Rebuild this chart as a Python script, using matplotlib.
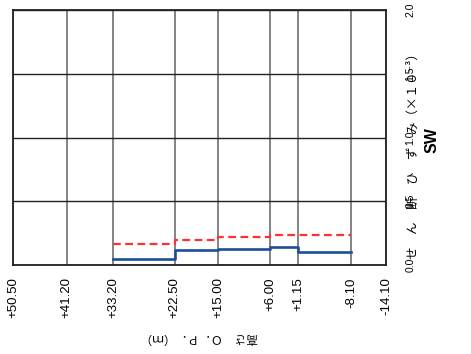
import matplotlib
matplotlib.use("Agg")
import matplotlib.pyplot as plt

# -----------------------------------------
# Data (elevations)

elev_ticks = [50.50, 41.20, 33.20, 22.50, 15.00, 6.00, 1.15, -8.10, -14.10]
elev_labels = ["+50.50", "+41.20", "+33.20", "+22.50", "+15.00", "+6.00", "+1.15", "-8.10", "-14.10"]

layer_bounds = [33.20, 22.50, 15.00, 6.00, 1.15, -8.10]
strain_calc = [0.045, 0.115, 0.123, 0.140, 0.104]
strain_limit = [0.165, 0.198, 0.217, 0.235, 0.235]

strain_ticks = [0.0, 0.5, 1.0, 1.5, 2.0]

jp_font = ["Noto Sans CJK JP", "DejaVu Sans"]
num_font = ["Liberation Sans", "DejaVu Sans"]

# -------------------------------
# Figure and axes (471 x 354 px)

fig = plt.figure(figsize=(4.71, 3.54), dpi=100)
ax = fig.add_axes([13 / 471, 1 - 265 / 354, 373 / 471, 255 / 354])

# step lines
ax.step(layer_bounds, strain_calc + [strain_calc[-1]], where="post",
        color="#1f4e96", lw=1.9, zorder=3)
ax.step(layer_bounds, strain_limit + [strain_limit[-1]], where="post",
        color="#ff3030", lw=1.6, ls=(0, (3.5, 2.0)), zorder=3)

ax.set_xlim(elev_ticks[0], elev_ticks[-1])
ax.set_ylim(0, 2.0)

# ticks
ax.set_xticks(elev_ticks)
ax.set_xticklabels(elev_labels, rotation=90, fontsize=9.5, family=num_font)
ax.tick_params(axis="x", length=0, pad=9)

ax.yaxis.tick_right()
ax.set_yticks(strain_ticks)
ax.set_yticklabels([f"{v:.1f}" for v in strain_ticks], rotation=90,
                   fontsize=7.5, family=num_font, va="center")
ax.tick_params(axis="y", length=0, pad=14)

# grid and frame
ax.xaxis.grid(True, color="#6e6e6e", lw=1.2)
ax.yaxis.grid(True, color="#222222", lw=1.0)
ax.set_axisbelow(True)
for spine in ax.spines.values():
    spine.set_color("#222222")
    spine.set_linewidth(1.3)

# ------------------------
# Rotated axis captions

ax.text(0.5, -0.286, "高さ　Ｏ．Ｐ．（ｍ）", transform=ax.transAxes,
        rotation=180, ha="center", va="center", fontsize=8.5, family=jp_font)
ax.text(1.072, 0.44, "せ　ん　断　ひ　ず　み（×１０⁻³）", transform=ax.transAxes,
        rotation=90, ha="center", va="center", fontsize=9, family=jp_font)
ax.text(1.124, 0.49, "SW", transform=ax.transAxes, rotation=90,
        ha="center", va="center", fontsize=11.5, fontweight="bold", family=num_font)

fig.savefig("out.png", dpi=100)
